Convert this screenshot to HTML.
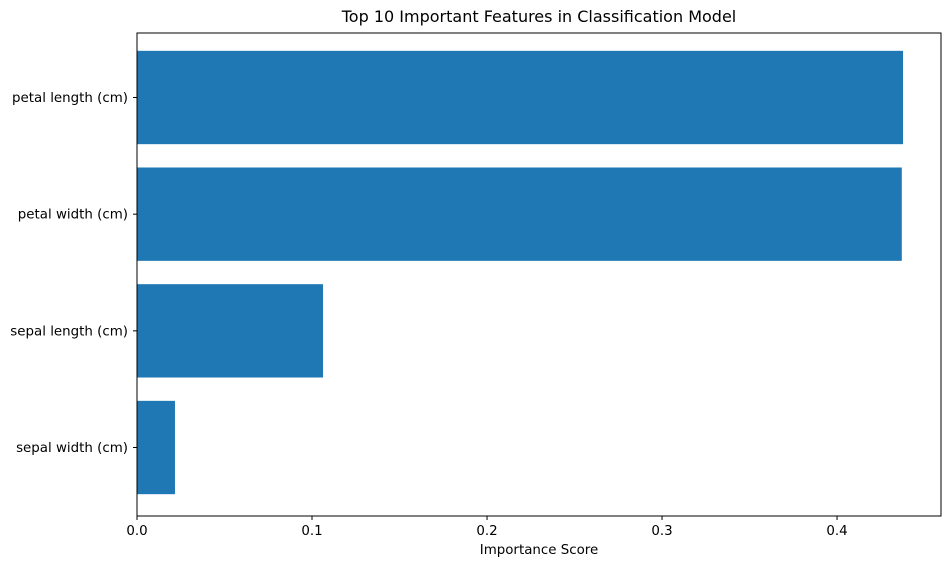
<!DOCTYPE html>
<html><head><meta charset="utf-8"><style>
body{margin:0;background:#fff;font-family:"DejaVu Sans","Liberation Sans",sans-serif;}
svg text{font-family:"DejaVu Sans","Liberation Sans",sans-serif;}
</style></head><body>
<svg id="chart" width="950" height="566" xmlns="http://www.w3.org/2000/svg">
<text x="539" y="22" font-size="16" text-anchor="middle" fill="#000">Top 10 Important Features in Classification Model</text>
<g id="bars"></g>
<g id="axes"></g>
<text x="539" y="554" font-size="13.4" text-anchor="middle" fill="#000">Importance Score</text>
</svg>
<script>
const categories = ["petal length (cm)", "petal width (cm)", "sepal length (cm)", "sepal width (cm)"];
const values = [0.4377, 0.4370, 0.1063, 0.0217];
const xTicks = [0, 0.1, 0.2, 0.3, 0.4];
const xTickLabels = ["0.0", "0.1", "0.2", "0.3", "0.4"];

const L=137, R=941, T=33, B=516;
const xMax=0.4594;
const x=v=>L+v/xMax*(R-L);
const unit=116.67;
const yc=i=>97.5+i*unit;
const bh=0.8*unit;
const ns="http://www.w3.org/2000/svg";
const bars=document.getElementById('bars'), axes=document.getElementById('axes');
categories.forEach((c,i)=>{
  const r=document.createElementNS(ns,'rect');
  r.setAttribute('x',x(0));r.setAttribute('y',yc(i)-bh/2);
  r.setAttribute('width',x(values[i])-x(0));r.setAttribute('height',bh);
  r.setAttribute('fill','#1f77b4');
  
  
  bars.appendChild(r);
  const tk=document.createElementNS(ns,'line');
  tk.setAttribute('x1',L-4);tk.setAttribute('x2',L);tk.setAttribute('y1',yc(i));tk.setAttribute('y2',yc(i));
  tk.setAttribute('stroke','#000');
  
  
  axes.appendChild(tk);
  const t=document.createElementNS(ns,'text');
  t.setAttribute('x',L-9);t.setAttribute('y',yc(i)+4.5);t.setAttribute('text-anchor','end');t.setAttribute('font-size','13.4');
  t.textContent=c;
  
  
  axes.appendChild(t);
});
xTicks.forEach((v,i)=>{
  const tk=document.createElementNS(ns,'line');
  tk.setAttribute('x1',x(v));tk.setAttribute('x2',x(v));tk.setAttribute('y1',B);tk.setAttribute('y2',B+4);
  tk.setAttribute('stroke','#000');
  
  
  axes.appendChild(tk);
  const t=document.createElementNS(ns,'text');
  t.setAttribute('x',x(v));t.setAttribute('y',B+19);t.setAttribute('text-anchor','middle');t.setAttribute('font-size','13.4');
  t.textContent=xTickLabels[i];
  
  
  axes.appendChild(t);
});
const fr=document.createElementNS(ns,'rect');
fr.setAttribute('x',L);fr.setAttribute('y',T);fr.setAttribute('width',R-L);fr.setAttribute('height',B-T);
fr.setAttribute('fill','none');fr.setAttribute('stroke','#000');fr.setAttribute('stroke-width','1');


axes.appendChild(fr);
</script>
</body></html>
